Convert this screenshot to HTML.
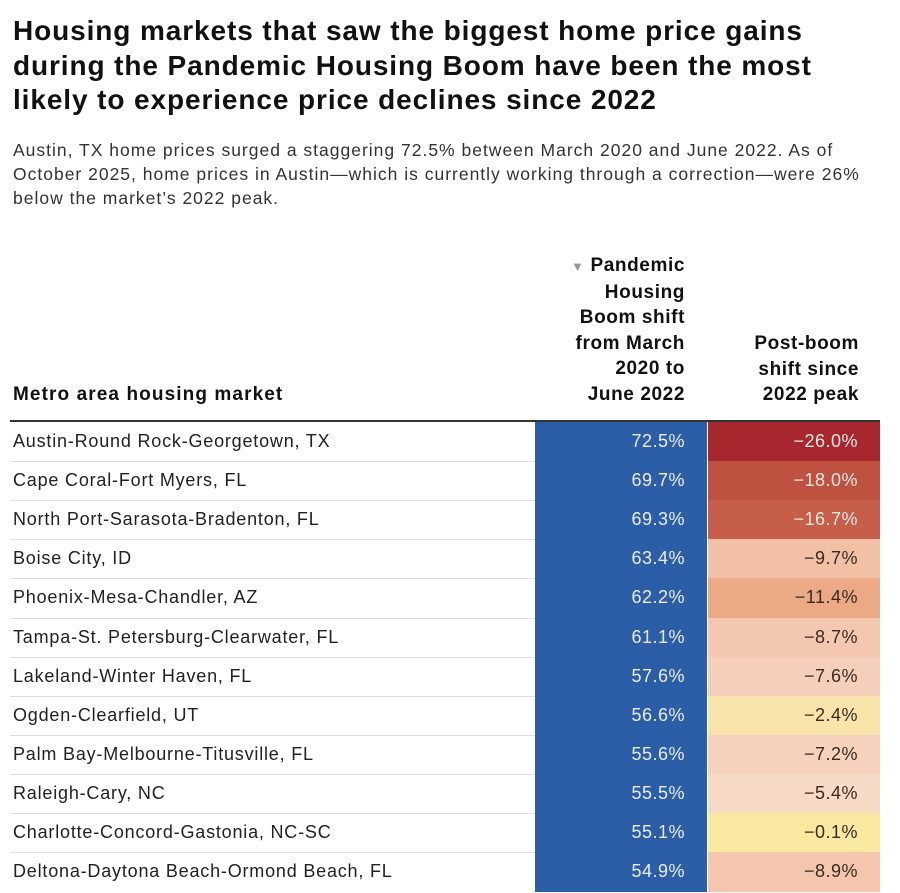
<!DOCTYPE html>
<html><head><meta charset="utf-8">
<style>
body{margin:0;background:#fff;font-family:"Liberation Sans",sans-serif;color:#1a1a1a;width:900px;height:893px;overflow:hidden;position:relative}
#title{position:absolute;left:13px;top:14px;font-size:28px;font-weight:bold;line-height:34.5px;margin:0;color:#111;letter-spacing:0.9px;white-space:nowrap}
#sub{position:absolute;left:13px;top:138px;font-size:17.5px;line-height:24px;color:#333;width:890px;letter-spacing:1.0px;white-space:nowrap}
.h{position:absolute;font-weight:bold;font-size:19px;line-height:25.5px;text-align:right;color:#111;letter-spacing:0.6px}
#rule{position:absolute;left:10px;top:420px;width:870px;height:2px;background:#333}
.row{position:absolute;left:0;width:900px;height:39px}
.name{position:absolute;left:13px;top:0;line-height:39px;font-size:18px;color:#222;letter-spacing:0.8px;white-space:nowrap}
.sep{position:absolute;left:10px;width:525px;height:1px;background:#ddd}
.c1{position:absolute;left:535px;width:172px;height:40px;background:#2c5ea8;color:#e8eef8;font-size:18px;line-height:39px;text-align:right;box-sizing:border-box;padding-right:22px;letter-spacing:0.5px}
.c2{position:absolute;left:708px;width:172px;height:40px;font-size:18px;line-height:39px;text-align:right;box-sizing:border-box;padding-right:22px;letter-spacing:0.5px}
</style></head><body>
<h1 id="title">Housing markets that saw the biggest home price gains<br>during the Pandemic Housing Boom have been the most<br>likely to experience price declines since 2022</h1>
<div id="sub">Austin, TX home prices surged a staggering 72.5% between March 2020 and June 2022. As of<br>October 2025, home prices in Austin—which is currently working through a correction—were 26%<br>below the market’s 2022 peak.</div>
<div class="h" style="left:13px;top:382px;text-align:left;letter-spacing:1.1px">Metro area housing market</div>
<div class="h" style="left:530px;top:253px;width:155px"><span style="color:#999;font-size:13px">▼</span> Pandemic<br>Housing<br>Boom shift<br>from March<br>2020 to<br>June 2022</div>
<div class="h" style="left:705px;top:331px;width:154px">Post-boom<br>shift since<br>2022 peak</div>
<div id="rule"></div>
<div id="rows"></div>
<script>
const metros=["Austin-Round Rock-Georgetown, TX","Cape Coral-Fort Myers, FL","North Port-Sarasota-Bradenton, FL","Boise City, ID","Phoenix-Mesa-Chandler, AZ","Tampa-St. Petersburg-Clearwater, FL","Lakeland-Winter Haven, FL","Ogden-Clearfield, UT","Palm Bay-Melbourne-Titusville, FL","Raleigh-Cary, NC","Charlotte-Concord-Gastonia, NC-SC","Deltona-Daytona Beach-Ormond Beach, FL"];
const boomShift=[72.5,69.7,69.3,63.4,62.2,61.1,57.6,56.6,55.6,55.5,55.1,54.9];
const postShift=[-26.0,-18.0,-16.7,-9.7,-11.4,-8.7,-7.6,-2.4,-7.2,-5.4,-0.1,-8.9];
function redColor(v){
  const stops=[[0,[249,232,160]],[-2.5,[248,228,170]],[-5,[247,220,200]],[-8,[245,205,185]],[-10,[242,190,160]],[-12,[232,160,122]],[-17,[196,90,70]],[-19,[186,72,60]],[-26,[168,38,46]]];
  for(let i=0;i<stops.length-1;i++){const a=stops[i],b=stops[i+1];
    if(v<=a[0]&&v>=b[0]){const t=(a[0]-v)/(a[0]-b[0]);return 'rgb('+a[1].map((c,k)=>Math.round(c+(b[1][k]-c)*t)).join(',')+')';}}
  return 'rgb(168,38,46)';
}
const top0=422,rh=39.1;
const root=document.getElementById('rows');
metros.forEach((m,i)=>{
  const r=document.createElement('div');r.className='row';r.style.top=Math.round(top0+i*rh)+'px';
  
  
  const n=document.createElement('div');n.className='name';n.textContent=m;
  
  
  const c1=document.createElement('div');c1.className='c1';c1.textContent=boomShift[i].toFixed(1)+'%';
  
  
  const c2=document.createElement('div');c2.className='c2';
  const v=postShift[i];c2.textContent='−'+Math.abs(v).toFixed(1)+'%';
  c2.style.background=redColor(v);c2.style.color=v<-14?'#fbe9e4':'#3a2a22';
  
  
  r.appendChild(n);r.appendChild(c1);r.appendChild(c2);
  if(i>0){const s=document.createElement('div');s.className='sep';s.style.top='0px';
    
    
    r.appendChild(s);}
  root.appendChild(r);
});
</script>
</body></html>
